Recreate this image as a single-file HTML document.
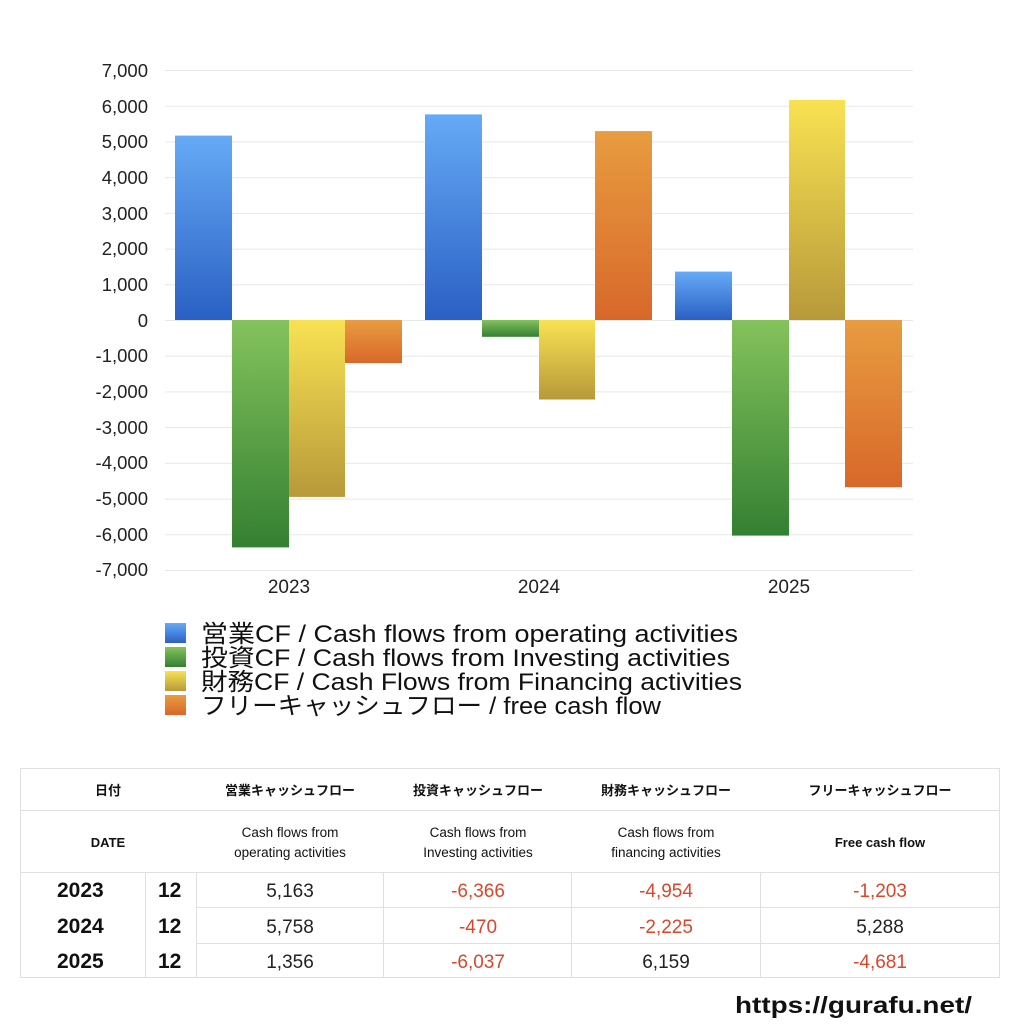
<!DOCTYPE html>
<html><head><meta charset="utf-8"><style>
body{margin:0;background:#fff;width:1024px;height:1024px;overflow:hidden;font-family:"Liberation Sans","Noto Sans CJK JP",sans-serif;}
</style></head><body>
<svg width="1024" height="1024" xmlns="http://www.w3.org/2000/svg" style="position:absolute;left:0;top:0" font-family="Liberation Sans, Noto Sans CJK JP, sans-serif">
<defs>
<linearGradient id="b" x1="0" y1="0" x2="0" y2="1"><stop offset="0" stop-color="#66aaf6"/><stop offset="1" stop-color="#2a60c4"/></linearGradient>
<linearGradient id="g" x1="0" y1="0" x2="0" y2="1"><stop offset="0" stop-color="#84c25c"/><stop offset="1" stop-color="#348032"/></linearGradient>
<linearGradient id="y" x1="0" y1="0" x2="0" y2="1"><stop offset="0" stop-color="#f8e252"/><stop offset="1" stop-color="#b8993a"/></linearGradient>
<linearGradient id="o" x1="0" y1="0" x2="0" y2="1"><stop offset="0" stop-color="#e89c40"/><stop offset="1" stop-color="#d8682a"/></linearGradient>
</defs>
<g stroke="#e8e8e8" stroke-width="1">
<line x1="165" x2="913" y1="70.5" y2="70.5"/><line x1="165" x2="913" y1="106.2" y2="106.2"/><line x1="165" x2="913" y1="141.9" y2="141.9"/><line x1="165" x2="913" y1="177.6" y2="177.6"/><line x1="165" x2="913" y1="213.4" y2="213.4"/><line x1="165" x2="913" y1="249.1" y2="249.1"/><line x1="165" x2="913" y1="284.8" y2="284.8"/><line x1="165" x2="913" y1="320.5" y2="320.5"/><line x1="165" x2="913" y1="356.2" y2="356.2"/><line x1="165" x2="913" y1="391.9" y2="391.9"/><line x1="165" x2="913" y1="427.6" y2="427.6"/><line x1="165" x2="913" y1="463.4" y2="463.4"/><line x1="165" x2="913" y1="499.1" y2="499.1"/><line x1="165" x2="913" y1="534.8" y2="534.8"/><line x1="165" x2="913" y1="570.5" y2="570.5"/>
</g>
<g font-size="18.5" fill="#222" text-anchor="end">
<text x="148" y="77">7,000</text><text x="148" y="113">6,000</text><text x="148" y="148">5,000</text><text x="148" y="184">4,000</text><text x="148" y="220">3,000</text><text x="148" y="255">2,000</text><text x="148" y="291">1,000</text><text x="148" y="327">0</text><text x="148" y="362">-1,000</text><text x="148" y="398">-2,000</text><text x="148" y="434">-3,000</text><text x="148" y="469">-4,000</text><text x="148" y="505">-5,000</text><text x="148" y="541">-6,000</text><text x="148" y="576">-7,000</text>
</g>
<rect x="175" y="135.6" width="57" height="184.4" fill="url(#b)"/>
<rect x="232" y="320" width="57" height="227.4" fill="url(#g)"/>
<rect x="289" y="320" width="56" height="176.9" fill="url(#y)"/>
<rect x="345" y="320" width="57" height="43" fill="url(#o)"/>
<rect x="425" y="114.4" width="57" height="205.6" fill="url(#b)"/>
<rect x="482" y="320" width="57" height="16.8" fill="url(#g)"/>
<rect x="539" y="320" width="56" height="79.5" fill="url(#y)"/>
<rect x="595" y="131.1" width="57" height="188.9" fill="url(#o)"/>
<rect x="675" y="271.6" width="57" height="48.4" fill="url(#b)"/>
<rect x="732" y="320" width="57" height="215.6" fill="url(#g)"/>
<rect x="789" y="100" width="56" height="220" fill="url(#y)"/>
<rect x="845" y="320" width="57" height="167.2" fill="url(#o)"/>
<g font-size="19" fill="#222" text-anchor="middle">
<text x="289" y="593">2023</text><text x="539" y="593">2024</text><text x="789" y="593">2025</text>
</g>
<rect x="165" y="623" width="21" height="20" fill="url(#b)"/>
<rect x="165" y="647" width="21" height="20" fill="url(#g)"/>
<rect x="165" y="671" width="21" height="20" fill="url(#y)"/>
<rect x="165" y="695" width="21" height="20" fill="url(#o)"/>
<g font-size="24" fill="#111" lengthAdjust="spacingAndGlyphs">
<text x="201" y="642" textLength="537" lengthAdjust="spacingAndGlyphs">営業CF / Cash flows from operating activities</text>
<text x="201" y="666" textLength="529" lengthAdjust="spacingAndGlyphs">投資CF / Cash flows from Investing activities</text>
<text x="201" y="690" textLength="541" lengthAdjust="spacingAndGlyphs">財務CF / Cash Flows from Financing activities</text>
<text x="201" y="714" textLength="460" lengthAdjust="spacingAndGlyphs">フリーキャッシュフロー / free cash flow</text>
</g>
<g stroke="#e0e0e0" stroke-width="1" fill="none">
<rect x="20.5" y="768.5" width="979" height="209"/>
<line x1="20" x2="1000" y1="810.5" y2="810.5"/>
<line x1="20" x2="1000" y1="872.5" y2="872.5"/>
<line x1="196" x2="1000" y1="907.5" y2="907.5"/>
<line x1="196" x2="1000" y1="943.5" y2="943.5"/>
<line x1="145.5" x2="145.5" y1="872" y2="978"/>
<line x1="196.5" x2="196.5" y1="872" y2="978"/>
<line x1="383.5" x2="383.5" y1="872" y2="978"/>
<line x1="571.5" x2="571.5" y1="872" y2="978"/>
<line x1="760.5" x2="760.5" y1="872" y2="978"/>
</g>
<g font-size="13" font-weight="bold" fill="#111" text-anchor="middle">
<text x="108" y="795">日付</text>
<text x="290" y="795">営業キャッシュフロー</text>
<text x="478" y="795">投資キャッシュフロー</text>
<text x="666" y="795">財務キャッシュフロー</text>
<text x="880" y="795">フリーキャッシュフロー</text>
<text x="108" y="847">DATE</text>
<text x="880" y="847">Free cash flow</text>
</g>
<g font-size="13.5" fill="#111" text-anchor="middle">
<text x="290" y="837">Cash flows from</text><text x="290" y="857">operating activities</text>
<text x="478" y="837">Cash flows from</text><text x="478" y="857">Investing activities</text>
<text x="666" y="837">Cash flows from</text><text x="666" y="857">financing activities</text>
</g>
<g font-size="21" font-weight="bold" fill="#111">
<text x="57" y="897">2023</text><text x="57" y="933">2024</text><text x="57" y="968">2025</text>
<text x="158" y="897">12</text><text x="158" y="933">12</text><text x="158" y="968">12</text>
</g>
<g font-size="19" text-anchor="middle">
<text x="290" y="897" fill="#222">5,163</text><text x="478" y="897" fill="#d9472b">-6,366</text><text x="666" y="897" fill="#d9472b">-4,954</text><text x="880" y="897" fill="#d9472b">-1,203</text>
<text x="290" y="933" fill="#222">5,758</text><text x="478" y="933" fill="#d9472b">-470</text><text x="666" y="933" fill="#d9472b">-2,225</text><text x="880" y="933" fill="#222">5,288</text>
<text x="290" y="968" fill="#222">1,356</text><text x="478" y="968" fill="#d9472b">-6,037</text><text x="666" y="968" fill="#222">6,159</text><text x="880" y="968" fill="#d9472b">-4,681</text>
</g>
<text x="735" y="1013" font-size="23" font-weight="bold" fill="#111" textLength="237" lengthAdjust="spacingAndGlyphs">https://gurafu.net/</text>
</svg>
</body></html>
